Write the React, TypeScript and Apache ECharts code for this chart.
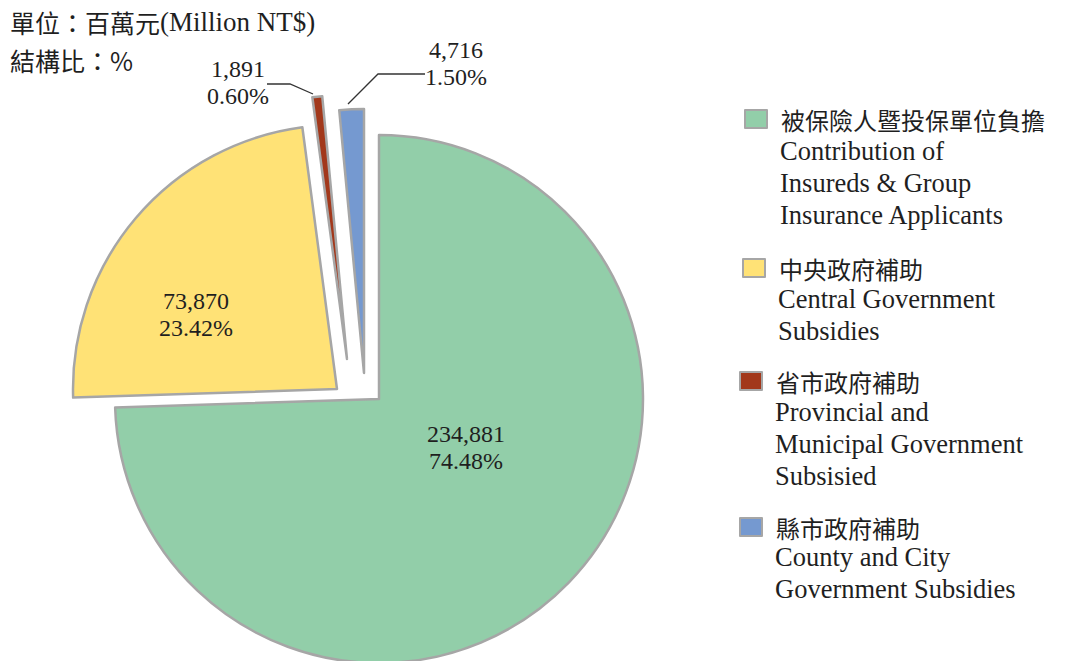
import React, { useEffect, useRef } from "react";
import * as echarts from "echarts";

const names = ["被保險人暨投保單位負擔", "中央政府補助", "省市政府補助", "縣市政府補助"];
const englishNames = [
  ["Contribution of", "Insureds & Group", "Insurance Applicants"],
  ["Central Government", "Subsidies"],
  ["Provincial and", "Municipal Government", "Subsisied"],
  ["County and City", "Government Subsidies"],
];
const values = [234881, 73870, 1891, 4716];
const colors = ["#92CEA9", "#FFE276", "#A2381B", "#7599D0"];
const titleLines = ["單位：百萬元", "(Million NT$)", "結構比：%"];

const SERIF = "'Liberation Serif', 'Times New Roman', serif";
const CJK = "'Noto Sans CJK TC', 'Noto Sans CJK SC', sans-serif";
const BORDER = "#A6A6A6";
const TEXT = "#1f1f1f";

// per-slice (exploded) pie centres, label centres and leader lines
const centers: [number, number][] = [
  [379, 399],
  [337, 389],
  [347, 359],
  [364, 373],
];
const labelPos: [number, number][] = [
  [466, 447],
  [196, 314],
  [238, 82],
  [456, 63],
];
const leaderLines: (number[][] | null)[] = [
  null,
  null,
  [
    [313, 94],
    [290, 84],
    [267, 84],
  ],
  [
    [348, 104],
    [378, 74],
    [425, 74],
  ],
];
const legendBox = [
  { left: 744, top: 107, textLeft: 780, textTop: 135 },
  { left: 742, top: 256, textLeft: 778, textTop: 283 },
  { left: 739, top: 369, textLeft: 775, textTop: 396 },
  { left: 739, top: 515, textLeft: 775, textTop: 541 },
];

const fmt = (v: number) => v.toLocaleString("en-US");

export default function App() {
  const ref = useRef<HTMLDivElement>(null);
  useEffect(() => {
    if (!ref.current) return;
    const chart = echarts.init(ref.current, null, { renderer: "svg" });

    const series = names.map((_, i) => ({
      type: "pie",
      name: "s" + i,
      center: centers[i],
      radius: 264,
      startAngle: 90,
      clockwise: true,
      silent: true,
      avoidLabelOverlap: false,
      emphasis: { disabled: true },
      label: {
        show: false,
        position: i < 2 ? "inside" : "outside",
        formatter: (p: any) => `${fmt(p.value)}\n${p.percent.toFixed(2)}%`,
        fontFamily: SERIF,
        fontSize: 24,
        lineHeight: 27,
        color: TEXT,
      },
      labelLine: {
        show: false,
        lineStyle: { color: "#333", width: 1.3 },
      },
      labelLayout: (params: any) => {
        if (params.dataIndex !== i) return {};
        const o: any = {
          x: labelPos[i][0],
          y: labelPos[i][1],
          align: "center",
          verticalAlign: "middle",
        };
        if (leaderLines[i]) o.labelLinePoints = leaderLines[i];
        return o;
      },
      data: values.map((v, j) => ({
        name: names[j],
        value: v,
        itemStyle:
          j === i
            ? { color: colors[j], borderColor: BORDER, borderWidth: 2.5 }
            : { color: "rgba(0,0,0,0)", borderWidth: 0 },
        label: { show: j === i },
        labelLine: { show: j === i && !!leaderLines[j] },
      })),
    }));

    const legends = names.map((n, i) => ({
      show: true,
      orient: "vertical",
      left: legendBox[i].left,
      top: legendBox[i].top,
      padding: 0,
      itemWidth: 22,
      itemHeight: 18,
      itemGap: 0,
      icon: "rect",
      selectedMode: false,
      textStyle: {
        fontFamily: CJK,
        fontSize: 24,
        color: TEXT,
        lineHeight: 18,
        padding: [0, 0, 0, 9],
      },
      data: [
        {
          name: n,
          itemStyle: { color: colors[i], borderColor: BORDER, borderWidth: 2 },
        },
      ],
    }));

    const graphics = englishNames.map((lines, i) => ({
      type: "text",
      left: legendBox[i].textLeft,
      top: legendBox[i].textTop,
      silent: true,
      style: {
        text: lines.join("\n"),
        fontFamily: SERIF,
        fontSize: 26.5,
        lineHeight: 32,
        fill: TEXT,
      },
    }));

    chart.setOption({
      animation: false,
      backgroundColor: "#ffffff",
      title: [
        {
          text: `{c|${titleLines[0]}}{e|${titleLines[1]}}`,
          left: 10,
          top: 6,
          padding: 0,
          textStyle: {
            fontWeight: "normal",
            rich: {
              c: { fontFamily: CJK, fontWeight: "normal", fontSize: 25, color: TEXT, lineHeight: 32 },
              e: { fontFamily: SERIF, fontWeight: "normal", fontSize: 27, color: TEXT, lineHeight: 32 },
            },
          },
        },
        {
          text: titleLines[2],
          left: 10,
          top: 44,
          padding: 0,
          textStyle: {
            fontFamily: CJK,
            fontWeight: "normal",
            fontSize: 25,
            color: TEXT,
            lineHeight: 32,
          },
        },
      ],
      legend: legends,
      graphic: graphics,
      series,
    });
    return () => chart.dispose();
  }, []);
  return (
    <div
      ref={ref}
      style={{ position: "fixed", left: 0, top: 0, width: 1073, height: 661 }}
    />
  );
}
